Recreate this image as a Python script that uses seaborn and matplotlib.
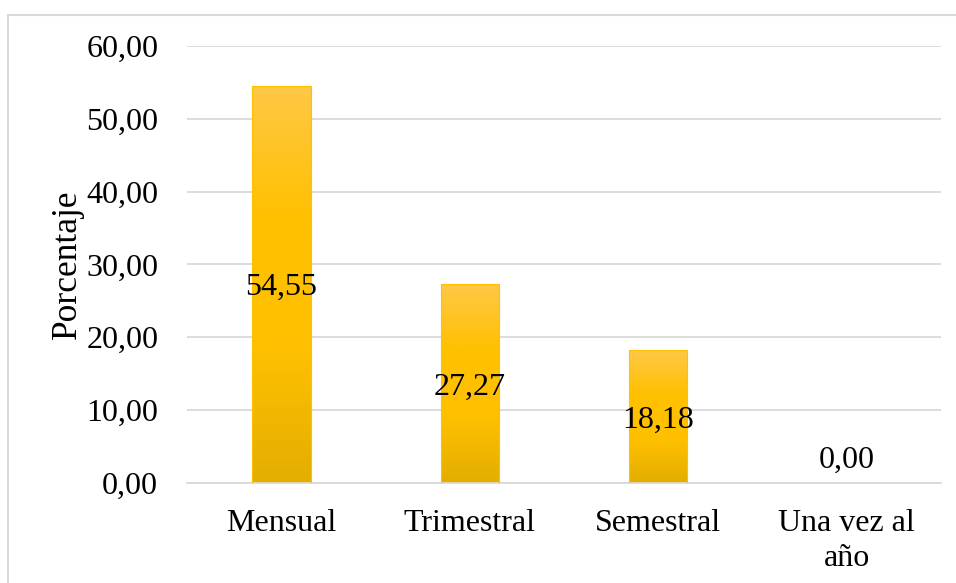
import numpy as np
import pandas as pd
import matplotlib.pyplot as plt
import seaborn as sns
from matplotlib.patches import Rectangle
from matplotlib.colors import LinearSegmentedColormap

# DATA:
categorias = ["Mensual", "Trimestral", "Semestral", "Una vez al\naño"]
porcentajes = [54.55, 27.27, 18.18, 0.00]
yticks = [0, 10, 20, 30, 40, 50, 60]

df = pd.DataFrame({"Frecuencia": categorias, "Porcentaje": porcentajes})

sns.set_style("white")
plt.rcParams["font.family"] = ["Liberation Serif", "DejaVu Serif"]

fig = plt.figure(figsize=(9.56, 5.83), dpi=100)
ax = fig.add_axes([0.196, 0.172, 0.788, 0.749])

ax = sns.barplot(data=df, x="Frecuencia", y="Porcentaje", color="#FFC000",
                 width=0.31, edgecolor="#FFC000", linewidth=0.8, ax=ax)

# gradient fill for bars
cmap = LinearSegmentedColormap.from_list("oro", ["#E3AE00", "#FFC000", "#FFC000", "#FFC847"])
grad = np.linspace(0, 1, 256).reshape(-1, 1)
for bar in ax.patches:
    x0, y0 = bar.get_x(), bar.get_y()
    w, h = bar.get_width(), bar.get_height()
    if h <= 0:
        continue
    im = ax.imshow(grad, extent=[x0, x0 + w, y0, y0 + h], origin="lower",
                   cmap=cmap, aspect="auto", zorder=2)
    im.set_clip_path(bar)
    bar.set_zorder(3)
    bar.set_facecolor("none")

# data labels
for i, v in enumerate(porcentajes):
    ypos = v / 2 if v > 0 else 3.6
    ax.text(i, ypos, f"{v:.2f}".replace(".", ","), ha="center", va="center_baseline",
            fontsize=23, color="black", zorder=5)

ax.set_xlim(-0.5, 3.5)
ax.set_ylim(0, 60)
ax.set_yticks(yticks)
ax.set_yticklabels([f"{t:.2f}".replace(".", ",") for t in yticks], fontsize=23, color="black")
ax.set_xticks(range(len(categorias)))
ax.set_xticklabels(categorias, fontsize=23, color="black", linespacing=1.25)
ax.tick_params(axis="y", length=0, pad=21)
ax.tick_params(axis="x", length=0, pad=19)
ax.yaxis.grid(True, color="#D9D9D9", linewidth=1.3)
ax.set_axisbelow(True)
for s in ["top", "right", "left"]:
    ax.spines[s].set_visible(False)
ax.spines["bottom"].set_color("#D9D9D9")
ax.spines["bottom"].set_linewidth(1.3)
ax.set_xlabel("")
ax.set_ylabel("Porcentaje", fontsize=25.5, color="black")
ax.yaxis.set_label_coords(-0.137, 0.5)

# chart border
fig.patches.append(Rectangle((8 / 956, -0.01), 1.02, 1 - 15 / 583 + 0.01,
                             transform=fig.transFigure, fill=False,
                             edgecolor="#D9D9D9", linewidth=1.5))

fig.savefig("out.png", dpi=100)
